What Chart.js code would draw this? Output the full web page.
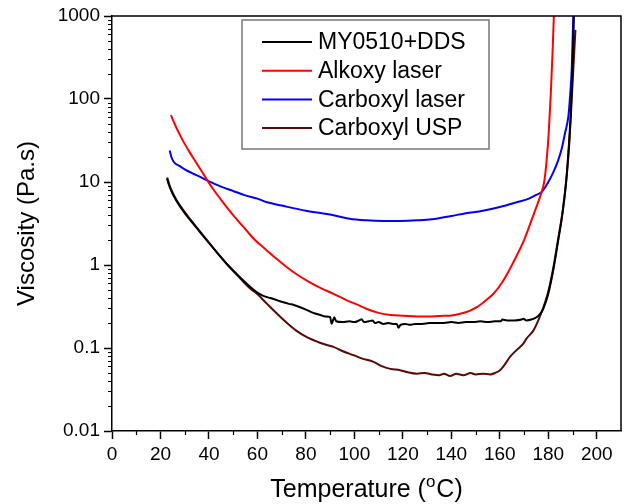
<!DOCTYPE html>
<html>
<head>
<meta charset="utf-8">
<script src="https://cdn.jsdelivr.net/npm/chart.js@4.4.1/dist/chart.umd.min.js"></script>
<style>
  html, body { margin: 0; padding: 0; background: #fff; }
  #wrap { width: 630px; height: 504px; }
</style>
</head>
<body>
<div id="wrap"><canvas id="c" width="630" height="504"></canvas></div>
<script>
// ---------------- data ----------------
const seriesNames = ['MY0510+DDS', 'Alkoxy laser', 'Carboxyl laser', 'Carboxyl USP'];
const seriesColors = ['#000000', '#ff0000', '#0000ff', '#5a0808'];

const temperatureTicks = [0, 20, 40, 60, 80, 100, 120, 140, 160, 180, 200];
const temperatureMinorTicks = [10, 30, 50, 70, 90, 110, 130, 150, 170, 190];
const viscosityTicks = [0.01, 0.1, 1, 10, 100, 1000];
const viscosityTickLabels = ['0.01', '0.1', '1', '10', '100', '1000'];

// MY0510+DDS
const myT = [22.7, 23.5, 24.5, 25.7, 27.5, 30, 32.3, 35, 38, 40.5, 44, 47.4, 51, 54.3, 57, 59.8,
  62, 64, 66.6, 70, 73, 75, 77.6, 80, 83, 86, 88, 90, 90.6, 91.2, 91.7, 92.5, 95, 98, 100, 102, 103, 104,
  106, 107.5, 108.5, 110, 112, 114, 116, 117.5, 118.2, 119, 121, 123, 125, 128, 131, 134, 137, 140,
  143, 146, 149, 152, 155, 158, 160.5, 161, 163, 166, 169, 169.7, 171, 173, 175.3, 177, 178, 180,
  182, 184, 186, 187.5, 188.5, 189.3, 189.9, 190.3, 190.6];
const myV = [11, 9.2, 7.76, 6.58, 5.35, 4.22, 3.47, 2.78, 2.17, 1.77, 1.34, 1.03, 0.805, 0.646, 0.546, 0.468,
  0.43, 0.41, 0.39, 0.36, 0.34, 0.33, 0.31, 0.29, 0.265, 0.25, 0.24, 0.236, 0.196, 0.215, 0.235, 0.21, 0.205, 0.21, 0.205, 0.215, 0.222, 0.205,
  0.21, 0.215, 0.2, 0.205, 0.195, 0.2, 0.195, 0.195, 0.175, 0.19, 0.195, 0.19, 0.195, 0.195, 0.2, 0.2, 0.2, 0.205,
  0.2, 0.205, 0.205, 0.21, 0.205, 0.21, 0.21, 0.22, 0.215, 0.215, 0.22, 0.225, 0.215, 0.22, 0.236, 0.265, 0.3, 0.45,
  0.85, 1.9, 4.5, 11, 28, 70, 200, 500, 1000];

// Alkoxy laser
const alkT = [24.3, 26, 28, 30, 32, 34.5, 37, 39.4, 42, 45.4, 50, 54.3, 59, 63.9, 68, 72.2, 76, 80.4,
  86, 91.4, 96.9, 101, 105.2, 110, 115, 120, 126, 132, 137, 140, 144, 147.5, 150.5, 154, 157.4, 161,
  164, 167, 170, 172.5, 175, 177, 178.3, 179.3, 180.2, 181, 181.7, 182.3];
const alkV = [64, 49, 37, 28.8, 22.9, 17.6, 13.5, 10.4, 8.0, 5.9, 4.0, 2.86, 2.0, 1.5, 1.18, 0.94, 0.78, 0.65,
  0.53, 0.45, 0.375, 0.335, 0.295, 0.265, 0.25, 0.245, 0.24, 0.24, 0.245, 0.247, 0.26, 0.28, 0.31, 0.37, 0.45, 0.62,
  0.88, 1.3, 2.0, 3.1, 4.9, 7.2, 10, 18, 40, 110, 330, 1000];

// Carboxyl laser
const carLT = [23.8, 24.5, 25.5, 28, 30, 33, 36.4, 39.4, 45, 50, 55, 60, 64, 70, 80, 91, 98, 105, 112,
  119, 126, 132, 140, 146, 153, 160, 167, 172, 175, 177.3, 180, 182, 184, 185.5, 187, 188.3, 189, 189.7, 190.3];
const carLV = [24, 20, 17.4, 15.5, 14.2, 12.8, 11.5, 10.4, 8.8, 7.8, 6.9, 6.3, 5.7, 5.2, 4.5, 4.0, 3.6, 3.45, 3.4,
  3.4, 3.45, 3.55, 3.9, 4.2, 4.5, 5.0, 5.7, 6.3, 7.0, 7.6, 10, 13, 18, 25, 40, 62, 110, 240, 1000];

// Carboxyl USP
const carUT = [22.8, 23.6, 24.6, 25.8, 27.6, 30.1, 32.4, 35.1, 38.1, 40.6, 44, 47.4, 51, 54.3, 57, 59.8,
  62, 64, 68, 72.2, 76, 80.4, 85, 88, 91.4, 95, 99.6, 103, 107.9, 111, 114.8, 118.9, 122, 125.8, 129,
  132, 135, 137, 139.5, 142, 145, 148, 150, 153.2, 156, 158, 160.1, 162, 164.2, 167, 169.7, 171, 173.9,
  176, 178, 180, 182, 184, 186, 187.6, 188.7, 189.6, 190.4, 191.2];
const carUV = [11.3, 9.4, 7.9, 6.7, 5.45, 4.3, 3.52, 2.8, 2.18, 1.77, 1.33, 1.02, 0.79, 0.625, 0.52, 0.45,
  0.39, 0.34, 0.26, 0.2, 0.162, 0.135, 0.118, 0.11, 0.103, 0.092, 0.082, 0.075, 0.068, 0.061, 0.056, 0.054, 0.051, 0.049, 0.05,
  0.048, 0.047, 0.049, 0.046, 0.049, 0.047, 0.05, 0.048, 0.049, 0.048, 0.05, 0.054, 0.063, 0.078, 0.095, 0.113, 0.13, 0.163,
  0.22, 0.31, 0.48, 0.9, 2.0, 4.6, 12, 30, 90, 250, 680];

// ---------------- build chart ----------------
const seriesT = [myT, alkT, carLT, carUT];
const seriesV = [myV, alkV, carLV, carUV];
const FONT = "'Liberation Sans', Arial, sans-serif";

const datasets = seriesNames.map((name, i) => ({
  label: name,
  data: seriesT[i].map((t, k) => ({ x: t, y: seriesV[i][k] })),
  borderColor: seriesColors[i],
  backgroundColor: seriesColors[i],
  borderWidth: 2,
  pointRadius: 0,
  fill: false,
  cubicInterpolationMode: 'monotone'
}));

const framePlugin = {
  id: 'frame',
  afterDraw(chart) {
    const { ctx, chartArea: a, scales } = chart;
    ctx.save();
    ctx.strokeStyle = '#000';
    ctx.lineWidth = 1.5;
    // top and right borders
    ctx.beginPath();
    ctx.moveTo(a.left, a.top); ctx.lineTo(a.right, a.top); ctx.lineTo(a.right, a.bottom);
    ctx.stroke();
    // minor ticks
    ctx.lineWidth = 1.2;
    const ys = scales.y, xs = scales.x;
    ctx.beginPath();
    for (let e = -2; e < 3; e++) {
      for (let m = 2; m <= 9; m++) {
        const py = Math.round(ys.getPixelForValue(m * Math.pow(10, e))) + 0.5;
        ctx.moveTo(a.left - 4, py); ctx.lineTo(a.left, py);
      }
    }
    temperatureMinorTicks.forEach(v => {
      const px = Math.round(xs.getPixelForValue(v)) + 0.5;
      ctx.moveTo(px, a.bottom); ctx.lineTo(px, a.bottom + 4);
    });
    ctx.stroke();

    // legend
    const lx = 242, ly = 20, lw = 247, lh = 129;
    ctx.fillStyle = '#fff';
    ctx.fillRect(lx, ly, lw, lh);
    ctx.strokeStyle = '#777';
    ctx.lineWidth = 1.5;
    ctx.strokeRect(lx, ly, lw, lh);
    ctx.font = "23px " + FONT;
    ctx.textBaseline = 'middle';
    ctx.textAlign = 'left';
    chart.data.datasets.forEach((ds, i) => {
      const cy = 42 + i * 28.7;
      ctx.strokeStyle = ds.borderColor;
      ctx.lineWidth = 2;
      ctx.beginPath(); ctx.moveTo(262, cy); ctx.lineTo(312, cy); ctx.stroke();
      ctx.fillStyle = '#000';
      ctx.fillText(ds.label, 318, cy + 1);
    });

    // axis titles
    ctx.fillStyle = '#000';
    const big = "25px " + FONT, small = "17px " + FONT;
    ctx.textBaseline = 'alphabetic';
    const p1 = 'Temperature (', sup = 'o', p2 = 'C)';
    ctx.font = big;
    const w1 = ctx.measureText(p1).width;
    const w2 = ctx.measureText(p2).width;
    ctx.font = small;
    const ws = ctx.measureText(sup).width + 1;
    const total = w1 + ws + w2;
    const cx = (a.left + a.right) / 2;
    const x0 = cx - total / 2;
    const base = 497;
    ctx.font = big;
    ctx.fillText(p1, x0, base);
    ctx.font = small;
    ctx.fillText(sup, x0 + w1, base - 10);
    ctx.font = big;
    ctx.fillText(p2, x0 + w1 + ws, base);

    ctx.font = "24px " + FONT;
    ctx.translate(27, (a.top + a.bottom) / 2);
    ctx.rotate(-Math.PI / 2);
    ctx.textAlign = 'center';
    ctx.textBaseline = 'middle';
    ctx.fillText('Viscosity (Pa.s)', 0, 0);
    ctx.restore();
  }
};

new Chart(document.getElementById('c'), {
  type: 'line',
  data: { datasets },
  options: {
    responsive: false,
    devicePixelRatio: 1,
    animation: false,
    layout: { padding: { left: 0, top: 16, right: 9, bottom: 0 } },
    plugins: { legend: { display: false }, tooltip: { enabled: false } },
    scales: {
      x: {
        type: 'linear', min: 0, max: 210,
        afterBuildTicks: s => { s.ticks = temperatureTicks.map(v => ({ value: v })); },
        afterFit: s => { s.height = 73; },
        ticks: { color: '#000', font: { family: FONT, size: 19 }, padding: 4, maxRotation: 0, autoSkip: false,
                 callback: v => String(v) },
        grid: { drawOnChartArea: false, drawTicks: true, tickLength: 8, tickColor: '#000', tickWidth: 1.5 },
        border: { display: true, color: '#000', width: 1.5 }
      },
      y: {
        type: 'logarithmic', min: 0.01, max: 1000,
        afterBuildTicks: s => { s.ticks = viscosityTicks.map(v => ({ value: v })); },
        afterFit: s => { s.width = 112; },
        ticks: { color: '#000', font: { family: FONT, size: 19 }, padding: 4, autoSkip: false,
                 callback: (v, i) => viscosityTickLabels[i] },
        grid: { drawOnChartArea: false, drawTicks: true, tickLength: 8, tickColor: '#000', tickWidth: 1.5 },
        border: { display: true, color: '#000', width: 1.5 }
      }
    }
  },
  plugins: [framePlugin]
});
</script>
</body>
</html>
